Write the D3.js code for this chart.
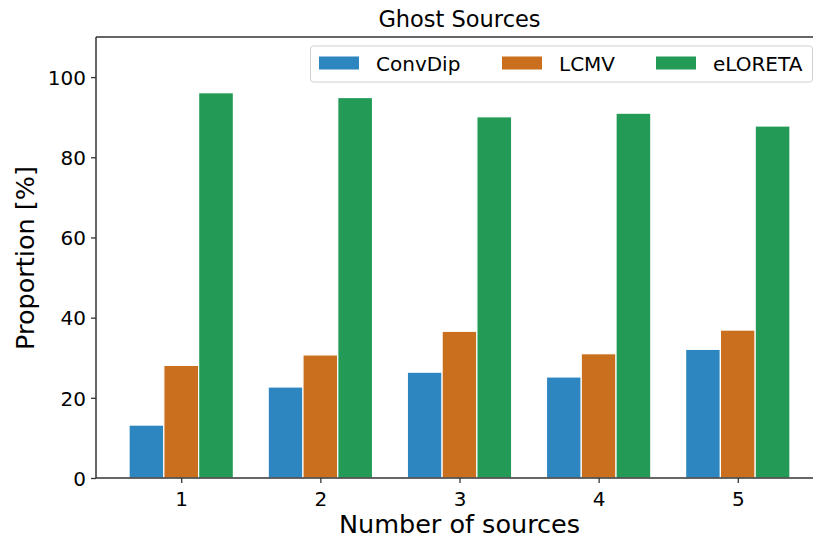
<!DOCTYPE html>
<html>
<head>
<meta charset="utf-8">
<script src="https://cdn.jsdelivr.net/npm/d3@7/dist/d3.min.js"></script>
<style>
  html, body { margin: 0; padding: 0; background: #fff; }
  svg { display: block; font-family: "DejaVu Sans", sans-serif; }
</style>
</head>
<body>
<svg id="chart" width="813" height="541"></svg>
<script>
// Number of simultaneous sources on the x axis
const sourceCounts = [1, 2, 3, 4, 5];
// Proportion of ghost sources per method [%]
const convDip = [13.2, 22.7, 26.4, 25.2, 32.1];
const lcmv = [28.1, 30.7, 36.6, 31.0, 36.9];
const eLoreta = [96.1, 94.9, 90.1, 91.0, 87.8];
const seriesNames = ["ConvDip", "LCMV", "eLORETA"];
const yTicks = [0, 20, 40, 60, 80, 100];

const colors = ["#2E86C1", "#CA6F1E", "#239B56"];
const seriesValues = [convDip, lcmv, eLoreta];
const barWidth = 0.25;

const svg = d3.select("#chart");
const plot = { left: 96, right: 823, top: 37, bottom: 478 };

const x = d3.scaleLinear().domain([0.3875, 5.6125]).range([plot.left, plot.right]);
const y = d3.scaleLinear().domain([0, 110]).range([plot.bottom, plot.top]);

// Bars: three per group, side by side, centred on the group tick
const barsG = svg.append("g");
seriesValues.forEach((vals, si) => {
  const offset = (si - 1) * barWidth;
  barsG.selectAll(null)
    .data(vals.map((v, i) => ({ x: sourceCounts[i] + offset, v })))
    .join("rect")
    .attr("x", d => x(d.x - barWidth / 2))
    .attr("width", d => x(d.x + barWidth / 2) - x(d.x - barWidth / 2))
    .attr("y", d => y(d.v))
    .attr("height", d => y(0) - y(d.v))
    .attr("fill", colors[si])
    .attr("stroke", "#fff")
    .attr("stroke-width", 1.2);
});

// Axes
const axisColor = "#333";
const xAxis = svg.append("g")
  .attr("transform", `translate(0,${plot.bottom})`)
  .call(d3.axisBottom(x).tickValues(sourceCounts).tickFormat(d3.format("d")).tickSize(5).tickPadding(4));
const yAxis = svg.append("g")
  .attr("transform", `translate(${plot.left},0)`)
  .call(d3.axisLeft(y).tickValues(yTicks).tickFormat(d3.format("d")).tickSize(5).tickPadding(5));

[xAxis, yAxis].forEach(a => {
  a.select(".domain").remove();
  a.selectAll(".tick line").attr("stroke", axisColor).attr("stroke-width", 1.3);
  a.selectAll(".tick text")
    .attr("fill", "#000")
    .style("font-size", "20px")
    .style("font-family", "DejaVu Sans, sans-serif");
});
xAxis.selectAll(".tick text").attr("dy", "0.95em");
yAxis.selectAll(".tick text").attr("dy", "0.36em");

// Spines (left, bottom, top, right)
const spines = svg.append("g").attr("stroke", axisColor).attr("stroke-width", 1.5).attr("fill", "none");
spines.append("line").attr("x1", plot.left).attr("x2", plot.left).attr("y1", plot.top).attr("y2", plot.bottom);
spines.append("line").attr("x1", plot.left).attr("x2", plot.right).attr("y1", plot.bottom).attr("y2", plot.bottom);
spines.append("line").attr("x1", plot.left).attr("x2", plot.right).attr("y1", plot.top).attr("y2", plot.top);
spines.append("line").attr("x1", plot.right).attr("x2", plot.right).attr("y1", plot.top).attr("y2", plot.bottom);

// Title and axis labels
svg.append("text")
  .attr("x", (plot.left + plot.right) / 2).attr("y", 27)
  .attr("text-anchor", "middle")
  .style("font-size", "22.5px")
  .text("Ghost Sources");

svg.append("text")
  .attr("x", (plot.left + plot.right) / 2).attr("y", 533)
  .attr("text-anchor", "middle")
  .style("font-size", "25.5px")
  .text("Number of sources");

svg.append("text")
  .attr("transform", `translate(34,258) rotate(-90)`)
  .attr("text-anchor", "middle")
  .style("font-size", "25.5px")
  .text("Proportion [%]");

// Legend
const legend = svg.append("g");
legend.append("rect")
  .attr("x", 310.5).attr("y", 46).attr("width", 502).attr("height", 36)
  .attr("rx", 3).attr("ry", 3)
  .attr("fill", "rgba(255,255,255,0.8)")
  .attr("stroke", "#d0d0d0").attr("stroke-width", 1);
const legendX = [319, 502, 656];
seriesNames.forEach((name, i) => {
  legend.append("rect")
    .attr("x", legendX[i]).attr("y", 56.5).attr("width", 40).attr("height", 13)
    .attr("fill", colors[i]);
  legend.append("text")
    .attr("x", legendX[i] + 57).attr("y", 71)
    .style("font-size", "20px")
    .text(name);
});
</script>
</body>
</html>
